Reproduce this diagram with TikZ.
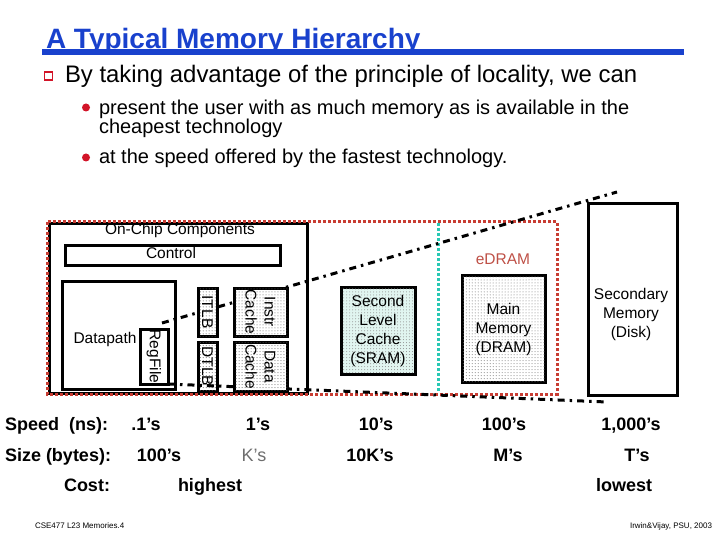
\documentclass[tikz,border=0pt]{standalone}
\usepackage{fontspec}
\setmainfont{Liberation Sans}
\usetikzlibrary{patterns}
\definecolor{titleblue}{RGB}{25,65,205}
\definecolor{reddot}{RGB}{200,60,50}
\definecolor{cyandot}{RGB}{40,200,180}
\definecolor{edramred}{RGB}{190,80,70}
\definecolor{lcyan}{RGB}{225,245,240}
\definecolor{bulletred}{RGB}{210,20,40}
\definecolor{kgrey}{RGB}{110,110,110}
\begin{document}
\begin{tikzpicture}[x=1bp,y=-1bp,
  every node/.style={inner sep=0pt, outer sep=0pt},
  box/.style={draw=black, line width=3bp, inner sep=0pt},
  wbox/.style={box, fill=white},
  dotted box/.style={box, fill=white, postaction={pattern=dots, pattern color=black!65}},
  lbl/.style={font=\fontsize{15.5bp}{19bp}\selectfont, align=center},
  redline/.style={draw=reddot, line width=3bp, dash pattern=on 3bp off 2bp},
  cyanline/.style={draw=cyandot, line width=3bp, dash pattern=on 3bp off 2bp},
  dashdot/.style={draw=black, line width=3bp, dash pattern=on 7bp off 5bp on 2.5bp off 5bp},
  rowtxt/.style={font=\fontsize{18bp}{20bp}\selectfont\bfseries, anchor=base},
  rowlight/.style={font=\fontsize{18bp}{20bp}\selectfont, anchor=base},
  foot/.style={font=\fontsize{8bp}{9bp}\selectfont, anchor=base},
]
\useasboundingbox (0,0) rectangle (720,540);

% title
\node[anchor=base west, font=\fontsize{28bp}{30bp}\selectfont\bfseries, text=titleblue] (title) at (46,48.5) {A Typical Memory Hierarchy};
\fill[titleblue] (42,49.5) rectangle (684,55);

% bullets
\node[draw=bulletred, line width=1.3bp, fill=white, minimum size=8bp] (sq) at (48.5,76) {};
\node[anchor=base west, font=\fontsize{23.9bp}{26bp}\selectfont] (l1) at (65,83) {By taking advantage of the principle of locality, we can};
\fill[bulletred] (86,107.5) circle (4);
\fill[bulletred] (86,157.5) circle (4);
\node[anchor=base west, font=\fontsize{20bp}{20bp}\selectfont] (l2) at (99,114.5) {present the user with as much memory as is available in the};
\node[anchor=base west, font=\fontsize{20bp}{20bp}\selectfont] (l3) at (99,133.5) {cheapest technology};
\node[anchor=base west, font=\fontsize{20bp}{20bp}\selectfont] (l4) at (99,164) {at the speed offered by the fastest technology.};

% on-chip box and red/cyan dotted
\node[box, minimum width=257bp, minimum height=169bp] (onchip) at (178.5,308.5) {};
\draw[redline] (47,222) rectangle (557,394);
\draw[cyanline] (438,223) -- (438,393);
\node[lbl, anchor=base] (octext) at (180,235) {On-Chip Components};

\node[box, minimum width=214bp, minimum height=19bp] (control) at (173,255.5) {};
\node[lbl, anchor=base] (ctext) at (171,259) {Control};
\node[box, minimum width=113bp, minimum height=107bp] (datapath) at (118.5,335.5) {};
\node[lbl, anchor=base] (dptext) at (105,343) {Datapath};

% upper dash-dot line
\coordinate (u1) at (162,323);
\coordinate (u2) at (617,192);
\draw[dashdot] (u1) -- (u2);

\node[wbox, lbl, rotate=-90, minimum width=55bp, minimum height=28bp] (regfile) at (154,356.5) {RegFile};
\node[dotted box, lbl, rotate=-90, minimum width=48bp, minimum height=19bp] (itlb) at (207.5,312) {ITLB};
\node[dotted box, lbl, rotate=-90, minimum width=49bp, minimum height=19bp] (dtlb) at (207.5,366.5) {DTLB};
\node[dotted box, lbl, rotate=-90, minimum width=48bp, minimum height=53bp] (icache) at (260.5,312) {Instr\\Cache};

% lower dash-dot line
\coordinate (d1) at (168,384);
\coordinate (d2) at (607,402);
\draw[dashdot] (d1) -- (d2);

\node[dotted box, lbl, rotate=-90, minimum width=49bp, minimum height=53bp] (dcache) at (260.5,366.5) {Data\\Cache};

\node[box, lbl, fill=lcyan, postaction={pattern=dots, pattern color=black!45}, minimum width=74bp, minimum height=86bp] (l2) at (378,331) {Second\\Level\\Cache\\(SRAM)};
\node[lbl, anchor=base, text=edramred] (edram) at (503,265) {eDRAM};
\node[box, lbl, fill=white, postaction={pattern=dots, pattern color=black!55}, minimum width=83bp, minimum height=106bp] (mainmem) at (503.5,329) {Main\\Memory\\(DRAM)};
\node[wbox, minimum width=89bp, minimum height=191bp] (secmem) at (632.5,299.5) {};
\node[lbl] (sectext) at (631,314) {Secondary\\Memory\\(Disk)};

% table
\node[rowtxt, anchor=base west] (speed) at (5,430.5) {Speed\ \ (ns):};
\node[rowtxt] (s1) at (146,430.5) {.1’s};
\node[rowtxt] (s2) at (258,430.5) {1’s};
\node[rowtxt] (s3) at (376,430.5) {10’s};
\node[rowtxt] (s4) at (504,430.5) {100’s};
\node[rowtxt] (s5) at (631,430.5) {1,000’s};

\node[rowtxt, anchor=base west] (size) at (5,461.5) {Size (bytes):};
\node[rowtxt] (z1) at (159,461.5) {100’s};
\node[rowlight, text=kgrey] (z2) at (254,461.5) {K’s};
\node[rowtxt] (z3) at (370,461.5) {10K’s};
\node[rowtxt] (z4) at (508,461.5) {M’s};
\node[rowtxt] (z5) at (637,461.5) {T’s};

\node[rowtxt] (cost) at (87,491.5) {Cost:};
\node[rowtxt] (c1) at (210,491.5) {highest};
\node[rowtxt] (c2) at (624,491.5) {lowest};

% footer
\node[foot, anchor=base west] (f1) at (35,528) {CSE477 L23 Memories.4};
\node[foot, anchor=base east] (f2) at (712,528) {Irwin\&Vijay, PSU, 2003};
\end{tikzpicture}
\end{document}
